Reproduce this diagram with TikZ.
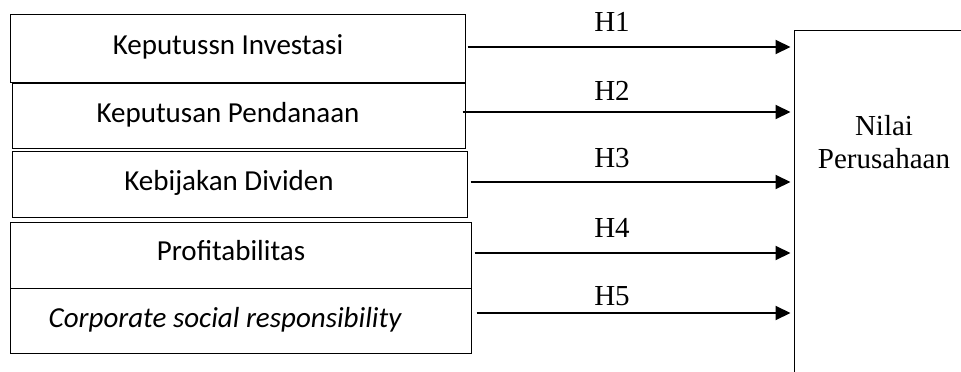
\documentclass[tikz,border=0pt]{standalone}
\usepackage{fontspec}
\setmainfont{Liberation Serif}
\newfontfamily\boxfont{Carlito}
\usetikzlibrary{arrows.meta,calc}
\begin{document}
\begin{tikzpicture}[x=1pt,y=-1pt,
  box/.style={draw, line width=1pt, rectangle, inner sep=0pt},
  btext/.style={font=\boxfont\fontsize{29}{34}\selectfont, inner sep=0pt, anchor=base},
  arr/.style={line width=2pt, -{Triangle[length=15pt,width=14pt]}, shorten >=3pt},
  hlab/.style={font=\fontsize{29}{34}\selectfont, inner sep=0pt, anchor=base}]
\useasboundingbox (0,0) rectangle (961,372);
\begin{scope}
\clip (0,0) rectangle (961,372);
% right box
\node[box, minimum width=180pt, minimum height=380pt] (nv) at (884,220) {};
\end{scope}
% left boxes
\node[box, minimum width=455pt, minimum height=68pt] (b1) at (237.5,48) {};
\node[box, minimum width=453pt, minimum height=65pt] (b2) at (238.5,115.5) {};
\node[box, minimum width=455pt, minimum height=66pt] (b3) at (239.5,184) {};
\node[box, minimum width=461pt, minimum height=66pt] (b4) at (240.5,255) {};
\node[box, minimum width=461pt, minimum height=65pt] (b5) at (240.5,320.5) {};
% texts
\node[btext] (t1) at (228,54) {Keputussn Investasi};
\node[btext] (t2) at (228,122) {Keputusan Pendanaan};
\node[btext] (t3) at (229,190) {Kebijakan Dividen};
\node[btext] (t4) at (231,260) {Profitabilitas};
\node[btext] (t5) at (225,327) {\itshape Corporate social responsibility};
\node[hlab] (nl1) at (884,135) {Nilai};
\node[hlab] (nl2) at (884,168) {Perusahaan};
% arrows
\coordinate (s1) at ($(b1.east)+(2,-1)$);
\coordinate (s2) at ($(b2.east)+(-3,-3.5)$);
\coordinate (s3) at ($(b3.east)+(3,-2)$);
\coordinate (s4) at ($(b4.east)+(3,-2)$);
\coordinate (s5) at ($(b5.east)+(5,-7.5)$);
\draw[arr] (s1) -- (s1 -| nv.west);
\draw[arr] (s2) -- (s2 -| nv.west);
\draw[arr] (s3) -- (s3 -| nv.west);
\draw[arr] (s4) -- (s4 -| nv.west);
\draw[arr] (s5) -- (s5 -| nv.west);
\node[hlab] (h1) at (612,31) {H1};
\node[hlab] (h2) at (612,100) {H2};
\node[hlab] (h3) at (612,167) {H3};
\node[hlab] (h4) at (612,237) {H4};
\node[hlab] (h5) at (612,305) {H5};
\end{tikzpicture}
\end{document}
